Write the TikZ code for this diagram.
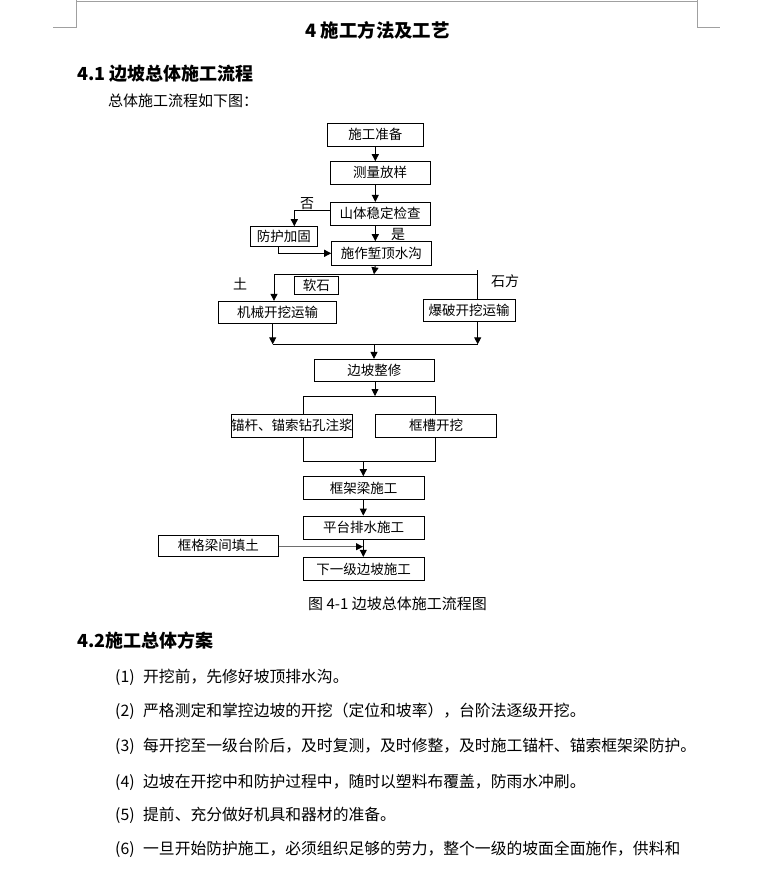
\documentclass[tikz,border=0pt]{standalone}
\usepackage{fontspec}
\setmainfont{Noto Sans CJK SC}
\usetikzlibrary{arrows.meta,positioning,calc}
\definecolor{pageGrey}{RGB}{160,160,160}
\definecolor{lineGrey}{RGB}{110,110,110}
\tikzset{
  flowbox/.style={
    rectangle, draw=black, line width=0.9pt, fill=white, inner sep=0pt,
    minimum height=22.5pt, font=\fontsize{13.5}{15}\selectfont},
  labeltext/.style={inner sep=0pt, font=\fontsize{14}{16}\selectfont},
  bodytext/.style={anchor=west, inner sep=0pt, font=\fontsize{15.8}{18}\selectfont},
  headtext/.style={anchor=west, inner sep=0pt, font=\fontsize{18}{20}\selectfont\bfseries},
  arrowline/.style={-{Triangle[length=7pt,width=7pt,color=black]}, line width=0.9pt},
  plainline/.style={line width=0.9pt},
  cornerline/.style={draw=pageGrey, line width=0.8pt}
}

\begin{document}
\begin{tikzpicture}[x=1pt,y=-1pt]
  \useasboundingbox[fill=white] (0,0) rectangle (774,871);

  % page corner marks
  \draw[cornerline] (76,0) -- (76,27.5) -- (52.5,27.5);
  \draw[cornerline] (697.5,0) -- (697.5,27.5) -- (720,27.5);
  \draw[cornerline] (76,1.5) -- (697.5,1.5);

  % headings
  \node[inner sep=0pt, font=\fontsize{18.4}{20}\selectfont\bfseries] (title) at (377.5,30) {4 施工方法及工艺};
  \node[headtext] (sec41) at (77,73.5) {4.1 边坡总体施工流程};
  \node[bodytext, font=\fontsize{15}{17}\selectfont] (intro) at (108,100.5) {总体施工流程如下图：};

  % flow chart
  \node[flowbox, minimum width=95.3pt, minimum height=22.7pt] (prep) at (375.3,134.7) {施工准备};
  \node[flowbox, minimum width=100pt, minimum height=22.3pt] (survey) at (380,172.8) {测量放样};
  \node[flowbox, minimum width=100pt, minimum height=22.7pt] (check) at (380,213.7) {山体稳定检查};
  \node[flowbox, minimum width=67.7pt, minimum height=19.3pt] (reinforce) at (283.8,236.3) {防护加固};
  \node[flowbox, minimum width=99.3pt, minimum height=23.3pt] (ditch) at (381.3,253.3) {施作堑顶水沟};
  \node[flowbox, minimum width=44pt, minimum height=17.7pt] (softrock) at (316.3,285.5) {软石};
  \node[flowbox, minimum width=118.3pt, minimum height=22pt] (mech) at (277.5,312.3) {机械开挖运输};
  \node[flowbox, minimum width=91.7pt, minimum height=22pt] (blast) at (469.2,310.3) {爆破开挖运输};
  \node[flowbox, minimum width=120pt, minimum height=21.7pt] (trim) at (374.3,370.2) {边坡整修};
  \node[flowbox, minimum width=121.7pt, minimum height=23pt] (anchor) at (291.8,425.8) {锚杆、锚索钻孔注浆};
  \node[flowbox, minimum width=121.3pt, minimum height=23pt] (groove) at (436,425.8) {框槽开挖};
  \node[flowbox, minimum width=120.7pt, minimum height=22.7pt] (beam) at (363.7,488) {框架梁施工};
  \node[flowbox, minimum width=120.7pt, minimum height=23.3pt] (drain) at (363.7,527.7) {平台排水施工};
  \node[flowbox, minimum width=120pt, minimum height=21.7pt] (fill) at (218.3,545.8) {框格梁间填土};
  \node[flowbox, minimum width=120.7pt, minimum height=23.3pt] (next) at (363.7,569) {下一级边坡施工};

  \node[labeltext] (no) at (307,204) {否};
  \node[labeltext] (yes) at (398,234) {是};
  \node[labeltext] (soil) at (240,284) {土};
  \node[labeltext] (rock) at (505,281.5) {石方};

  \coordinate (splitTop) at (374,274.3);
  \coordinate (soilTurn) at (274,274.3);
  \coordinate (rockTurn) at (477.7,274.3);
  \coordinate (soilJoin) at (272.7,344.3);
  \coordinate (rockJoin) at (477.7,344.3);
  \coordinate (joinMid) at (374,344.3);
  \coordinate (forkMid) at (375,396);
  \coordinate (forkLeft) at (303.3,396);
  \coordinate (forkRight) at (435.7,396);
  \coordinate (mergeLeft) at (303.3,461.7);
  \coordinate (mergeRight) at (435.7,461.7);
  \coordinate (mergeMid) at (363.3,461.7);
  \coordinate (fillEnd) at (363,546.7);

  \draw[arrowline] (prep.south) -- (prep.south |- survey.north);
  \draw[arrowline] (prep.south |- survey.south) -- (prep.south |- check.north);
  \draw[arrowline] ([yshift=3.7pt]check.west) -| ([xshift=10.5pt]reinforce.north);
  \draw[arrowline] (prep.south |- check.south) -- (prep.south |- ditch.north);
  \draw[arrowline] ([xshift=-5.5pt]reinforce.south) |- (ditch.west);
  \draw[arrowline] (prep.south |- ditch.south) -- (splitTop);

  \draw[plainline] (soilTurn) -- (rockTurn);
  \draw[arrowline] (soilTurn) -- (soilTurn |- mech.north);
  \draw[plainline] ([yshift=4pt]rockTurn) -- (rockTurn |- blast.north);

  \draw[arrowline] (soilJoin |- mech.south) -- (soilJoin);
  \draw[arrowline] (rockJoin |- blast.south) -- (rockJoin);
  \draw[plainline] (soilJoin) -- (rockJoin);
  \draw[arrowline] (joinMid) -- (joinMid |- trim.north);

  \draw[arrowline] (forkMid |- trim.south) -- (forkMid);
  \draw[plainline] (forkLeft |- anchor.north) -- (forkLeft) -- (forkRight) -- (forkRight |- groove.north);
  \draw[plainline] (mergeLeft |- anchor.south) -- (mergeLeft) -- (mergeRight) -- (mergeRight |- groove.south);
  \draw[arrowline] (mergeMid) -- (mergeMid |- beam.north);
  \draw[arrowline] (mergeMid |- beam.south) -- (mergeMid |- drain.north);
  \draw[arrowline] (mergeMid |- drain.south) -- (mergeMid |- next.north);
  \draw[arrowline, draw=lineGrey] (fill.east |- fillEnd) -- (fillEnd);

  \node[inner sep=0pt, font=\fontsize{15}{17}\selectfont] (caption) at (397.5,604) {图 4-1 边坡总体施工流程图};

  % body text
  \node[headtext] (sec42) at (77,641) {4.2施工总体方案};
  \node[bodytext] (item1) at (115,677) {\makebox[28pt][l]{(1)}开挖前，先修好坡顶排水沟。};
  \node[bodytext] (item2) at (115,711) {\makebox[28pt][l]{(2)}严格测定和掌控边坡的开挖（定位和坡率），台阶法逐级开挖。};
  \node[bodytext] (item3) at (115,746) {\makebox[28pt][l]{(3)}每开挖至一级台阶后，及时复测，及时修整，及时施工锚杆、锚索框架梁防护。};
  \node[bodytext] (item4) at (115,782) {\makebox[28pt][l]{(4)}边坡在开挖中和防护过程中，随时以塑料布覆盖，防雨水冲刷。};
  \node[bodytext] (item5) at (115,815) {\makebox[28pt][l]{(5)}提前、充分做好机具和器材的准备。};
  \node[bodytext] (item6) at (115,849) {\makebox[28pt][l]{(6)}一旦开始防护施工，必须组织足够的劳力，整个一级的坡面全面施作，供料和};
\end{tikzpicture}
\end{document}
